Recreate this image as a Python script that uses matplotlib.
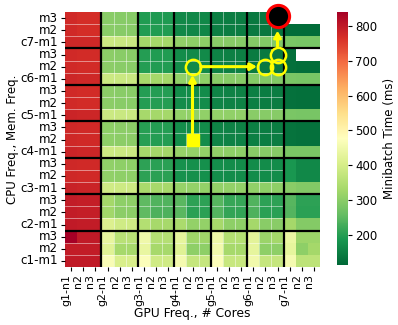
import numpy as np
import matplotlib
matplotlib.use('Agg')
import matplotlib.pyplot as plt
import seaborn as sns

nan = np.nan

# rows top -> bottom: c7-m3 ... c1-m1 ; columns g1-n1 ... g7-n3
cpu_mem = ['c%d-m%d' % (c, m) for c in range(7, 0, -1) for m in (3, 2, 1)]
gpu_cores = ['g%d-n%d' % (g, n) for g in range(1, 8) for n in (1, 2, 3)]
row_labels = [s if s.endswith('m1') else s.split('-')[1] for s in cpu_mem]
col_labels = [s if s.endswith('n1') else s.split('-')[1] for s in gpu_cores]

times = np.array([
	# c7
	[775, 770, 770, 300, 298, 298, 195, 193, 193, 165, 163, 163, 150, 148, 148, 140, 138, 114, nan, nan, nan],
	[775, 770, 770, 300, 298, 298, 196, 194, 194, 164, 162, 162, 150, 148, 148, 140, 138, 136, 122, 120, 120],
	[780, 778, 778, 385, 382, 382, 332, 330, 330, 308, 305, 305, 300, 298, 298, 293, 290, 290, 282, 280, 280],
	# c6
	[775, 772, 772, 302, 300, 300, 198, 196, 196, 168, 166, 166, 155, 152, 152, 145, 142, 140, 126, nan, nan],
	[775, 772, 772, 302, 300, 300, 198, 196, 196, 168, 166, 166, 155, 152, 152, 145, 142, 140, 126, 124, 124],
	[782, 780, 780, 385, 382, 382, 333, 330, 330, 308, 305, 305, 300, 298, 298, 293, 290, 290, 283, 280, 280],
	# c5
	[777, 774, 774, 303, 300, 300, 199, 197, 197, 170, 168, 168, 158, 155, 155, 150, 147, 147, 130, 128, 128],
	[777, 774, 774, 303, 300, 300, 199, 197, 197, 170, 168, 168, 158, 155, 155, 150, 147, 147, 130, 128, 128],
	[784, 781, 781, 386, 383, 383, 334, 331, 331, 312, 309, 309, 310, 308, 308, 300, 297, 297, 283, 281, 281],
	# c4
	[778, 775, 775, 305, 302, 302, 201, 199, 199, 172, 170, 170, 158, 156, 156, 150, 148, 148, 133, 131, 131],
	[778, 775, 775, 305, 302, 302, 201, 199, 199, 172, 170, 170, 158, 156, 156, 150, 148, 148, 133, 131, 131],
	[785, 782, 782, 388, 385, 385, 335, 332, 332, 313, 310, 310, 308, 305, 305, 300, 298, 298, 284, 282, 282],
	# c3
	[780, 777, 777, 308, 305, 305, 206, 204, 204, 178, 176, 176, 172, 170, 170, 170, 168, 168, 185, 165, 165],
	[780, 777, 777, 308, 305, 305, 206, 204, 204, 178, 176, 176, 172, 170, 170, 170, 168, 168, 185, 165, 165],
	[787, 784, 784, 390, 387, 387, 337, 334, 334, 315, 312, 312, 312, 310, 310, 308, 305, 305, 300, 290, 290],
	# c2
	[795, 792, 792, 330, 305, 305, 255, 240, 240, 250, 205, 205, 245, 215, 215, 240, 205, 205, 245, 205, 205],
	[795, 792, 792, 328, 303, 303, 253, 238, 238, 248, 203, 203, 243, 213, 213, 238, 203, 203, 243, 203, 203],
	[800, 797, 797, 410, 390, 390, 350, 335, 335, 340, 310, 310, 335, 305, 305, 330, 300, 300, 330, 295, 295],
	# c1
	[840, 800, 800, 433, 360, 360, 448, 354, 354, 430, 325, 325, 445, 352, 352, 425, 320, 330, 438, 322, 322],
	[795, 795, 795, 420, 335, 335, 435, 335, 335, 420, 305, 305, 450, 335, 335, 430, 305, 305, 430, 305, 330],
	[800, 800, 800, 463, 404, 404, 470, 390, 390, 455, 375, 375, 470, 380, 380, 450, 375, 375, 455, 365, 365],
])

# search path (start, visited..., final)
path_cpu_mem = ['c4-m2', 'c6-m2', 'c6-m2', 'c6-m2', 'c6-m3', 'c7-m3']
path_gpu = ['g4-n2', 'g4-n2', 'g6-n2', 'g6-n3', 'g6-n3', 'g6-n3']

plt.rcParams['font.size'] = 8.3
fig = plt.figure(figsize=(3.98, 3.25), dpi=100)
W, H = 398.0, 325.0
ax = fig.add_axes([65 / W, 1 - 267 / H, 255 / W, 255 / H])
cax = fig.add_axes([337 / W, 1 - 265 / H, 11 / W, 253 / H])

sns.heatmap(times, ax=ax, cbar_ax=cax, cmap='RdYlGn_r',
	xticklabels=col_labels, yticklabels=row_labels,
	cbar_kws={'label': 'Minibatch Time (ms)'})

ax.set_xticklabels(col_labels, rotation=90, ha='right', fontsize=7.9)
ax.set_yticklabels(row_labels, rotation=0, fontsize=8.6)
ax.tick_params(axis='both', length=3, pad=2)
ax.set_xlabel('GPU Freq., # Cores', fontsize=8.8, labelpad=1)
ax.set_ylabel('CPU Freq., Mem. Freq.', fontsize=8.5, labelpad=1)
cax.tick_params(labelsize=8.5, length=3, pad=2)
cax.yaxis.label.set_size(8.5)

# thin cell separators
for k in range(1, 21):
	if k % 3:
		ax.axhline(k, xmin=0, xmax=18 / 21., color='white', lw=0.6, alpha=0.55)
for k in range(4, 18):
	if k % 3:
		ax.axvline(k, color='white', lw=0.6, alpha=0.55)
# group separators
for k in range(3, 21, 3):
	ax.axhline(k, color='black', lw=1.6)
	ax.axvline(k, color='black', lw=1.6)

xs = [gpu_cores.index(g) + 0.5 for g in path_gpu]
ys = [cpu_mem.index(c) + 0.5 for c in path_cpu_mem]

def arrow(i, j, sa, sb):
	ax.annotate('', xy=(xs[j], ys[j]), xytext=(xs[i], ys[i]),
		arrowprops=dict(arrowstyle='-|>,head_length=0.45,head_width=0.25',
			color='yellow', lw=2.2, shrinkA=sa, shrinkB=sb), zorder=4)

arrow(0, 1, 4, 6)
arrow(1, 2, 6, 6)
arrow(4, 5, 6, 9)

ax.plot(xs[0], ys[0], 's', color='yellow', ms=9, zorder=5)
ax.plot(xs[1:5], ys[1:5], 'o', ls='none', mfc='none', mec='yellow', mew=1.8, ms=11, zorder=5)
ax.plot(xs[5], ys[5] - 0.2, 'o', mfc='black', mec='red', mew=2.2, ms=16, zorder=6, clip_on=False)

fig.savefig('out.png', dpi=100)
